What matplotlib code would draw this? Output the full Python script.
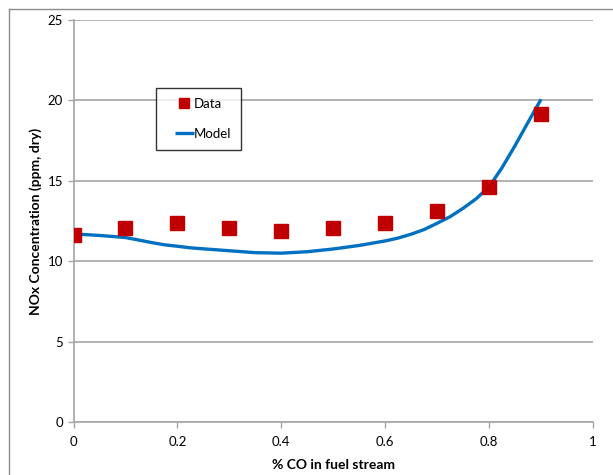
import matplotlib
matplotlib.use("Agg")
import matplotlib.pyplot as plt
from matplotlib.lines import Line2D
from matplotlib.legend_handler import HandlerLine2D

plt.rcParams['font.family'] = ['Lato', 'DejaVu Sans']

data_x = [0.0, 0.1, 0.2, 0.3, 0.4, 0.5, 0.6, 0.7, 0.8, 0.9]
data_y = [11.61, 12.08, 12.38, 12.08, 11.88, 12.08, 12.38, 13.12, 14.63, 19.18]

model_x = [0.0, 0.025, 0.05, 0.075, 0.10, 0.125, 0.15, 0.175, 0.20, 0.225,
           0.25, 0.30, 0.35, 0.40, 0.45, 0.50, 0.55, 0.60, 0.625, 0.65,
           0.675, 0.70, 0.725, 0.75, 0.775, 0.80, 0.825, 0.85, 0.875, 0.90]
model_y = [11.69, 11.65, 11.60, 11.54, 11.47, 11.32, 11.16, 11.02, 10.93, 10.83,
           10.77, 10.65, 10.53, 10.50, 10.59, 10.76, 10.98, 11.26, 11.44, 11.68,
           11.97, 12.36, 12.77, 13.29, 13.88, 14.63, 15.82, 17.19, 18.64, 20.07]

x_ticks = [0, 0.2, 0.4, 0.6, 0.8, 1]
x_tick_labels = ['0', '0.2', '0.4', '0.6', '0.8', '1']
y_ticks = [0, 5, 10, 15, 20, 25]
y_tick_labels = ['0', '5', '10', '15', '20', '25']

W, H = 613, 475
fig = plt.figure(figsize=(W / 100, H / 100), dpi=100)
ax = fig.add_axes([73.5 / W, 1 - 422 / H, (593 - 73.5) / W, (422 - 20) / H])

grid_c = '#A6A6A6'
ax.set_xlim(0, 1)
ax.set_ylim(0, 25)
ax.set_yticks(y_ticks)
ax.set_yticklabels(y_tick_labels)
ax.set_xticks(x_ticks)
ax.set_xticklabels(x_tick_labels)
ax.yaxis.grid(True, color=grid_c, linewidth=1.2)
ax.set_axisbelow(True)
for s in ['top', 'right']:
    ax.spines[s].set_visible(False)
for s in ['left', 'bottom']:
    ax.spines[s].set_color(grid_c)
    ax.spines[s].set_linewidth(1.2)
ax.tick_params(axis='both', colors=grid_c, labelcolor='black', labelsize=9.5,
               direction='out', length=4, width=1)
ax.tick_params(axis='x', pad=6)

ax.plot(model_x, model_y, color='#0070C0', linewidth=2.4, label='Model',
        solid_capstyle='butt', solid_joinstyle='round', zorder=2)
ax.plot(data_x, data_y, linestyle='none', marker='s', markersize=9.5,
        color='#C00000', label='Data', zorder=3)

ax.set_xlabel('% CO in fuel stream', fontsize=10, fontweight='bold', labelpad=8)
ax.set_ylabel('NOx Concentration (ppm, dry)', fontsize=10, fontweight='bold', labelpad=4)

h, l = ax.get_legend_handles_labels()
hm = {h[0]: HandlerLine2D(xpad=0.7), h[1]: HandlerLine2D(xpad=0.7)}
leg = ax.legend([h[1], h[0]], [l[1], l[0]], loc='upper left',
                bbox_to_anchor=(0.159, 0.831), frameon=True, fancybox=False,
                fontsize=9.5, labelspacing=1.35, handlelength=2.1, handletextpad=0.0,
                borderpad=0.75, borderaxespad=0, markerscale=0.8, handler_map=hm)
leg.get_frame().set_edgecolor('black')
leg.get_frame().set_linewidth(1.0)

fig.add_artist(Line2D([9 / W, 9 / W], [0, 1 - 9 / H], transform=fig.transFigure,
                      color='#8C8C8C', linewidth=1))
fig.add_artist(Line2D([9 / W, 1], [1 - 9 / H, 1 - 9 / H], transform=fig.transFigure,
                      color='#8C8C8C', linewidth=1))

fig.savefig('out.png', dpi=100)
